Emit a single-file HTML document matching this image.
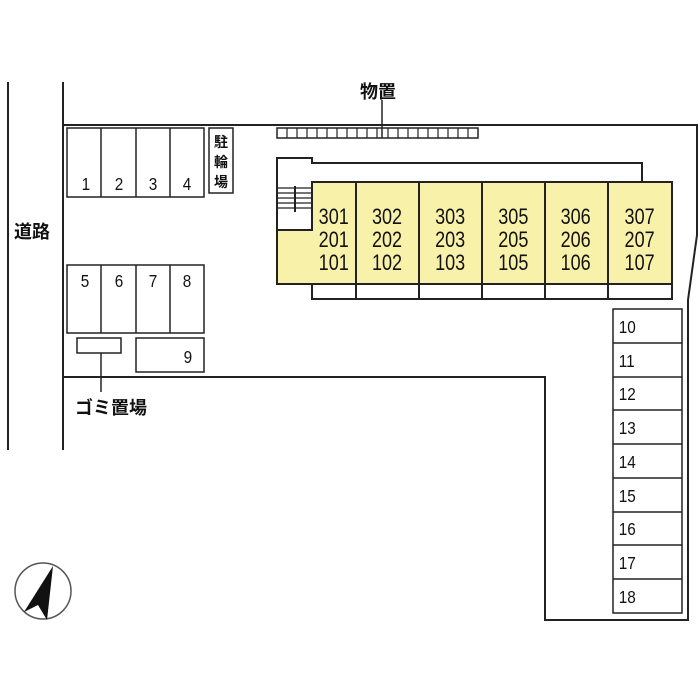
<!DOCTYPE html>
<html><head><meta charset="utf-8"><style>html,body{margin:0;padding:0;background:#fff}svg{display:block}</style></head><body>
<svg width="700" height="700" viewBox="0 0 700 700" xmlns="http://www.w3.org/2000/svg" font-family="'Liberation Sans','Noto Sans CJK JP',sans-serif">
<g stroke="#222" fill="none" stroke-width="2">
<line x1="8" y1="82" x2="8" y2="450"/>
<line x1="63" y1="82" x2="63" y2="450"/>
<polyline points="63,125 697,125 697,235 688,300 688,620 545,620 545,377 63,377"/>
</g>
<g stroke="#222" fill="none" stroke-width="1.5">
<rect x="67" y="128" width="137" height="69"/>
<line x1="101" y1="128" x2="101" y2="197"/><line x1="136" y1="128" x2="136" y2="197"/><line x1="170" y1="128" x2="170" y2="197"/>
<rect x="209" y="128" width="24" height="65"/>
<rect x="67" y="265" width="137" height="68"/>
<line x1="101" y1="265" x2="101" y2="333"/><line x1="136" y1="265" x2="136" y2="333"/><line x1="170" y1="265" x2="170" y2="333"/>
<rect x="77" y="338" width="44" height="15"/>
<line x1="101" y1="353" x2="101" y2="392"/>
<rect x="136" y="338" width="68" height="34"/>
<rect x="277" y="128" width="201" height="10"/>
<line x1="382" y1="100" x2="382" y2="138"/>
</g>
<g stroke="#222" stroke-width="1.2">
<line x1="287" y1="128" x2="287" y2="138"/><line x1="297" y1="128" x2="297" y2="138"/><line x1="307" y1="128" x2="307" y2="138"/><line x1="317" y1="128" x2="317" y2="138"/><line x1="327" y1="128" x2="327" y2="138"/><line x1="337" y1="128" x2="337" y2="138"/><line x1="347" y1="128" x2="347" y2="138"/><line x1="357" y1="128" x2="357" y2="138"/><line x1="367" y1="128" x2="367" y2="138"/><line x1="377" y1="128" x2="377" y2="138"/><line x1="388" y1="128" x2="388" y2="138"/><line x1="398" y1="128" x2="398" y2="138"/><line x1="408" y1="128" x2="408" y2="138"/><line x1="418" y1="128" x2="418" y2="138"/><line x1="428" y1="128" x2="428" y2="138"/><line x1="438" y1="128" x2="438" y2="138"/><line x1="448" y1="128" x2="448" y2="138"/><line x1="458" y1="128" x2="458" y2="138"/><line x1="468" y1="128" x2="468" y2="138"/>
</g>
<path d="M277,230 H312 V182 H672 V284 H277 Z" fill="#f8f1aa"/>
<g stroke="#222" fill="none" stroke-width="2">
<polyline points="642,182 642,163 312,163 312,158 277,158 277,284 672,284 672,182 312,182 312,230 277,230"/>
<line x1="356" y1="182" x2="356" y2="299"/><line x1="419" y1="182" x2="419" y2="299"/><line x1="482" y1="182" x2="482" y2="299"/><line x1="545" y1="182" x2="545" y2="299"/><line x1="608" y1="182" x2="608" y2="299"/>
<polyline points="312,284 312,299 672,299 672,284"/>
</g>
<g stroke="#222" stroke-width="1.3">
<line x1="277" y1="188" x2="312" y2="188"/><line x1="277" y1="193" x2="312" y2="193"/><line x1="277" y1="198" x2="312" y2="198"/><line x1="277" y1="203" x2="312" y2="203"/><line x1="277" y1="208" x2="312" y2="208"/>
<line x1="295" y1="186" x2="295" y2="212" stroke-width="2"/>
</g>
<g stroke="#222" fill="none" stroke-width="1.5">
<rect x="613" y="309" width="69" height="304"/>
<line x1="613" y1="343" x2="682" y2="343"/><line x1="613" y1="377" x2="682" y2="377"/><line x1="613" y1="410" x2="682" y2="410"/><line x1="613" y1="444" x2="682" y2="444"/><line x1="613" y1="478" x2="682" y2="478"/><line x1="613" y1="512" x2="682" y2="512"/><line x1="613" y1="545" x2="682" y2="545"/><line x1="613" y1="579" x2="682" y2="579"/>
</g>
<g fill="#111" font-size="18" transform="scale(0.85,1)" text-anchor="middle">
<text x="101" y="190">1</text><text x="140" y="190">2</text><text x="180" y="190">3</text><text x="220" y="190">4</text>
<text x="100" y="287">5</text><text x="140" y="287">6</text><text x="180" y="287">7</text><text x="220" y="287">8</text>
<text x="221" y="363">9</text>
</g>
<g fill="#111" font-size="18" transform="scale(0.85,1)">
<text x="728" y="333">10</text><text x="728" y="367">11</text><text x="728" y="400">12</text><text x="728" y="434">13</text><text x="728" y="468">14</text><text x="728" y="502">15</text><text x="728" y="535">16</text><text x="728" y="569">17</text><text x="728" y="603">18</text>
</g>
<g fill="#111" font-size="22" transform="scale(0.82,1)" text-anchor="middle">
<text x="407" y="224">301</text><text x="407" y="247">201</text><text x="407" y="270">101</text>
<text x="472" y="224">302</text><text x="472" y="247">202</text><text x="472" y="270">102</text>
<text x="549" y="224">303</text><text x="549" y="247">203</text><text x="549" y="270">103</text>
<text x="626" y="224">305</text><text x="626" y="247">205</text><text x="626" y="270">105</text>
<text x="702" y="224">306</text><text x="702" y="247">206</text><text x="702" y="270">106</text>
<text x="780" y="224">307</text><text x="780" y="247">207</text><text x="780" y="270">107</text>
</g>
<g fill="#111" font-weight="bold">
<text x="360" y="98" font-size="18">物置</text>
<text x="14" y="238" font-size="18">道路</text>
<text x="75" y="414" font-size="18">ゴミ置場</text>
<text x="221" y="147" font-size="14" text-anchor="middle">駐</text>
<text x="221" y="167" font-size="14" text-anchor="middle">輪</text>
<text x="221" y="187" font-size="14" text-anchor="middle">場</text>
</g>
<circle cx="43" cy="591" r="28" fill="none" stroke="#555" stroke-width="1.5"/>
<polygon points="53,566 47,620 38,605 24,612" fill="#111"/>
</svg>
</body></html>
